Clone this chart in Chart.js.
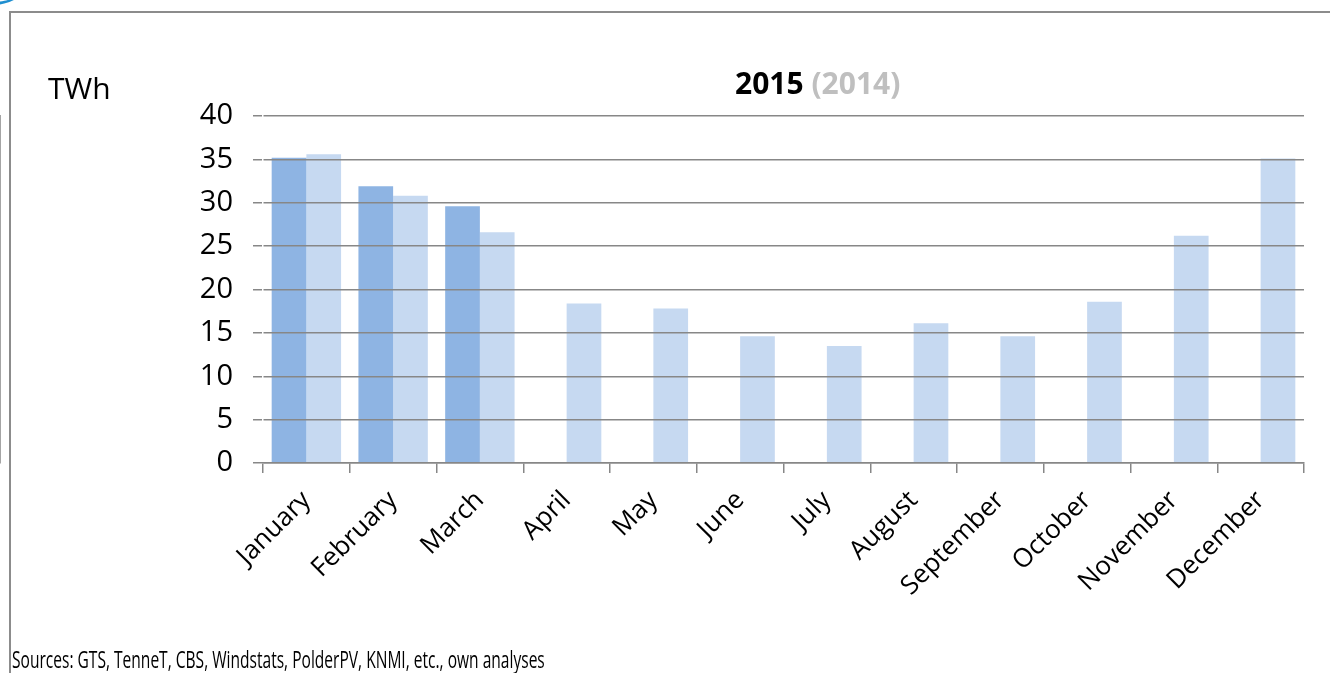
<!DOCTYPE html>
<html>
<head>
<meta charset="utf-8">
<script src="https://cdn.jsdelivr.net/npm/chart.js"></script>
<style>
  html, body { margin: 0; padding: 0; background: #fff; }
  body { width: 1330px; height: 673px; position: relative; overflow: hidden; font-family: "Open Sans", sans-serif; }
  #chart { position: absolute; left: 0; top: 0; }
  #swoosh { position: absolute; left: -40px; top: -32px; width: 64px; height: 34px; border-radius: 50%; border-bottom: 3px solid #1f8fd0; }
  #unit { position: absolute; left: 48px; top: 67px; font-size: 30px; color: #000; }
  #title { position: absolute; left: 735px; top: 62px; font-size: 30px; font-weight: bold; color: #000; white-space: nowrap; }
  #title span { color: #bfbfbf; }
  #sources { position: absolute; left: 12px; top: 643px; font-size: 23px; color: #000; white-space: nowrap; transform-origin: 0 0; }
</style>
</head>
<body>
<canvas id="chart" width="1330" height="673"></canvas>
<div id="swoosh"></div>
<div id="unit">TWh</div>
<div id="title">2015 <span>(2014)</span></div>
<div id="sources">Sources: GTS, TenneT, CBS, Windstats, PolderPV, KNMI, etc., own analyses</div>
<script>
  const months = ['January', 'February', 'March', 'April', 'May', 'June', 'July',
    'August', 'September', 'October', 'November', 'December'];
  const twh2015 = [35.2, 31.9, 29.6, null, null, null, null, null, null, null, null, null];
  const twh2014 = [35.6, 30.8, 26.6, 18.4, 17.8, 14.6, 13.5, 16.1, 14.6, 18.6, 26.2, 35.1];
  const yTicks = [0, 5, 10, 15, 20, 25, 30, 35, 40];

  const axisGrey = '#878787';

  // squeeze the sources line to its printed width
  const src = document.getElementById('sources');
  src.style.transform = 'scaleX(' + (533 / src.offsetWidth) + ')';

  // grey frame along the top and left edge of the canvas
  const framePlugin = {
    id: 'frame',
    beforeDraw(chart) {
      const c = chart.ctx;
      c.save();
      c.strokeStyle = '#8c8c8c';
      c.lineWidth = 2;
      c.beginPath();
      c.moveTo(10, chart.height);
      c.lineTo(10, 12);
      c.lineTo(chart.width, 12);
      c.stroke();
      c.restore();
    }
  };

  const ctx = document.getElementById('chart').getContext('2d');
  new Chart(ctx, {
    type: 'bar',
    data: {
      labels: months,
      datasets: [
        { label: '2015', data: twh2015, backgroundColor: '#8eb4e3', barPercentage: 1, categoryPercentage: 0.8 },
        { label: '2014', data: twh2014, backgroundColor: '#c6d9f1', barPercentage: 1, categoryPercentage: 0.8 }
      ]
    },
    plugins: [framePlugin],
    options: {
      responsive: false,
      animation: false,
      layout: { padding: { left: 0, top: 116, right: 26, bottom: 0 } },
      plugins: {
        legend: { display: false },
        tooltip: { enabled: false }
      },
      scales: {
        x: {
          grid: { offset: true, drawOnChartArea: false, color: axisGrey, lineWidth: 1.5, tickLength: 10 },
          border: { color: axisGrey, width: 1.5 },
          ticks: {
            color: '#000',
            font: { family: 'Open Sans', size: 26 },
            minRotation: 45,
            maxRotation: 45,
            padding: 12
          },
          afterFit: (scale) => { scale.height = 210; }
        },
        y: {
          min: 0,
          max: 40,
          afterBuildTicks: (scale) => { scale.ticks = yTicks.map(v => ({ value: v })); },
          grid: { color: axisGrey, lineWidth: 1.5, tickLength: 10, z: 1 },
          border: { color: axisGrey, width: 1.5 },
          ticks: {
            color: '#000',
            font: { family: 'Open Sans', size: 29 },
            padding: 20
          },
          afterFit: (scale) => { scale.width = 263; }
        }
      }
    }
  });
</script>
</body>
</html>
